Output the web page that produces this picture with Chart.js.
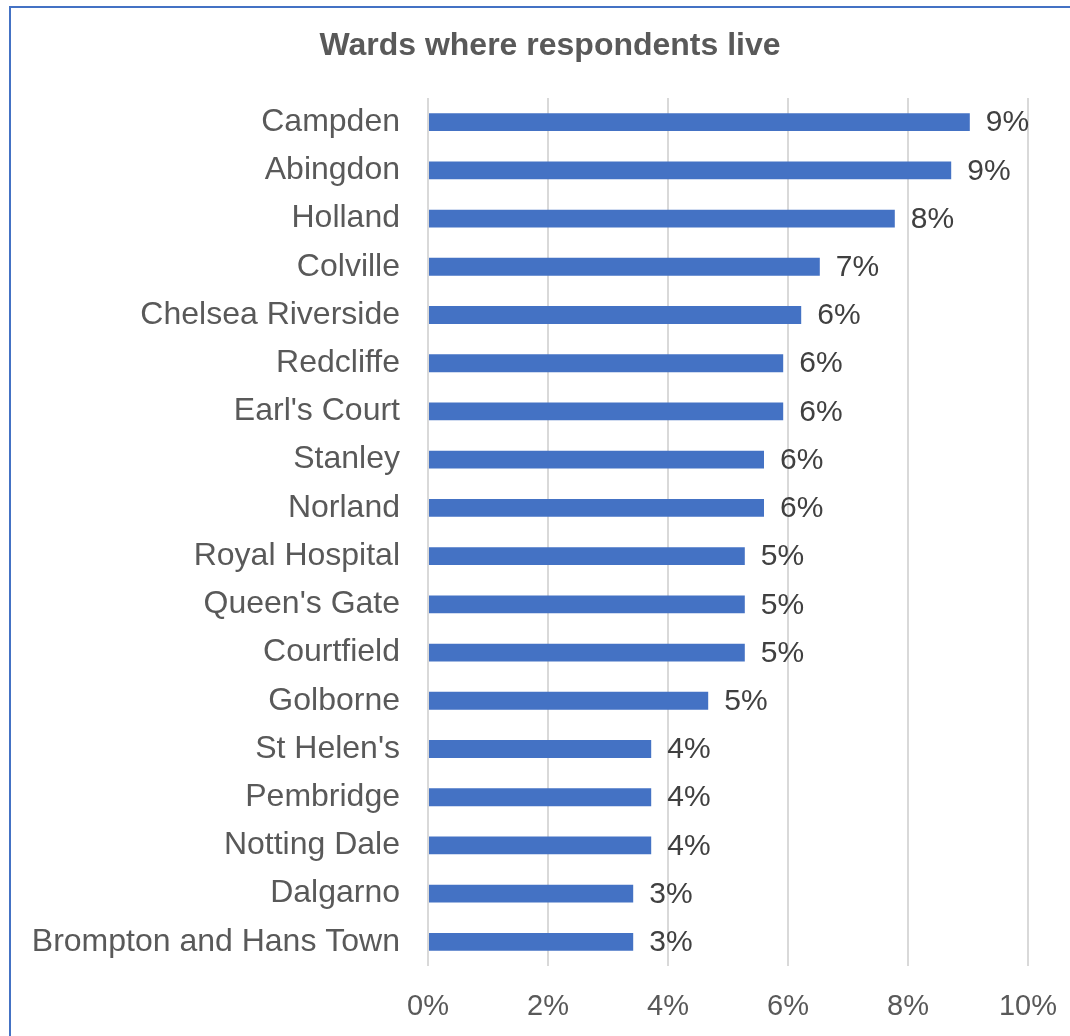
<!DOCTYPE html>
<html>
<head>
<meta charset="utf-8">
<script src="https://cdn.jsdelivr.net/npm/chart.js@4.4.1/dist/chart.umd.min.js"></script>
<style>
  html, body { margin: 0; padding: 0; background: #fff; overflow: hidden; }
  #wrap { position: relative; width: 1070px; height: 1036px; }
  #frame {
    position: absolute; left: 9px; top: 6px; width: 2000px; height: 2000px;
    border-top: 2px solid #4472C4; border-left: 2px solid #4472C4;
  }
  canvas { position: absolute; left: 0; top: 0; }
</style>
</head>
<body>
<div id="wrap">
  <div id="frame"></div>
  <canvas id="wardChart" width="1070" height="1036"></canvas>
</div>
<script>
// Ward names, top to bottom
const WARDS = [
  'Campden', 'Abingdon', 'Holland', 'Colville', 'Chelsea Riverside',
  'Redcliffe', "Earl's Court", 'Stanley', 'Norland', 'Royal Hospital',
  "Queen's Gate", 'Courtfield', 'Golborne', "St Helen's", 'Pembridge',
  'Notting Dale', 'Dalgarno', 'Brompton and Hans Town'
];

// Share of respondents per ward (%)
const SHARES = [
  9.03, 8.72, 7.78, 6.53, 6.22,
  5.92, 5.92, 5.60, 5.60, 5.28,
  5.28, 5.28, 4.67, 3.72, 3.72,
  3.72, 3.42, 3.42
];

const X_MIN = 0;
const X_MAX = 10;
const X_STEP = 2;

const TITLE = 'Wards where respondents live';

const FONT = "'Liberation Sans', Arial, sans-serif";
const TEXT = '#595959';
const BAR = '#4472C4';

// Title sits a little right of the canvas centre, above the plot
const titleText = {
  id: 'titleText',
  afterDraw(chart) {
    const { ctx } = chart;
    ctx.save();
    ctx.font = `bold 32px ${FONT}`;
    ctx.fillStyle = TEXT;
    ctx.textAlign = 'center';
    ctx.textBaseline = 'middle';
    ctx.fillText(TITLE, 550, 46);
    ctx.restore();
  }
};

// Percent label to the right of each bar
const barLabels = {
  id: 'barLabels',
  afterDatasetsDraw(chart) {
    const { ctx } = chart;
    const meta = chart.getDatasetMeta(0);
    ctx.save();
    ctx.font = `30px ${FONT}`;
    ctx.fillStyle = '#404040';
    ctx.textAlign = 'left';
    ctx.textBaseline = 'middle';
    meta.data.forEach((bar, i) => {
      ctx.fillText(Math.round(SHARES[i]) + '%', bar.x + 16, bar.y + 1);
    });
    ctx.restore();
  }
};

new Chart(document.getElementById('wardChart'), {
  type: 'bar',
  data: {
    labels: WARDS,
    datasets: [{
      data: SHARES,
      backgroundColor: BAR,
      borderWidth: 0,
      barPercentage: 0.37,
      categoryPercentage: 1
    }]
  },
  options: {
    indexAxis: 'y',
    responsive: false,
    animation: false,
    layout: { padding: { left: 0, right: 42, top: 98, bottom: 0 } },
    plugins: {
      legend: { display: false },
      tooltip: { enabled: false },
      title: { display: false }
    },
    scales: {
      x: {
        min: X_MIN,
        max: X_MAX,
        afterFit: s => {
          s.height = 70;
          s.paddingLeft = 0;
          s.paddingRight = 0;
        },
        ticks: {
          stepSize: X_STEP,
          color: TEXT,
          padding: 24,
          font: { family: FONT, size: 29 },
          callback: v => v + '%'
        },
        grid: { color: '#D9D9D9', lineWidth: 2, drawTicks: false },
        border: { display: false }
      },
      y: {
        afterFit: s => { s.width = 428; },
        ticks: {
          color: TEXT,
          padding: 28,
          font: { family: FONT, size: 32 }
        },
        grid: { display: false, drawTicks: false },
        border: { display: false }
      }
    }
  },
  plugins: [barLabels, titleText]
});
</script>
</body>
</html>
